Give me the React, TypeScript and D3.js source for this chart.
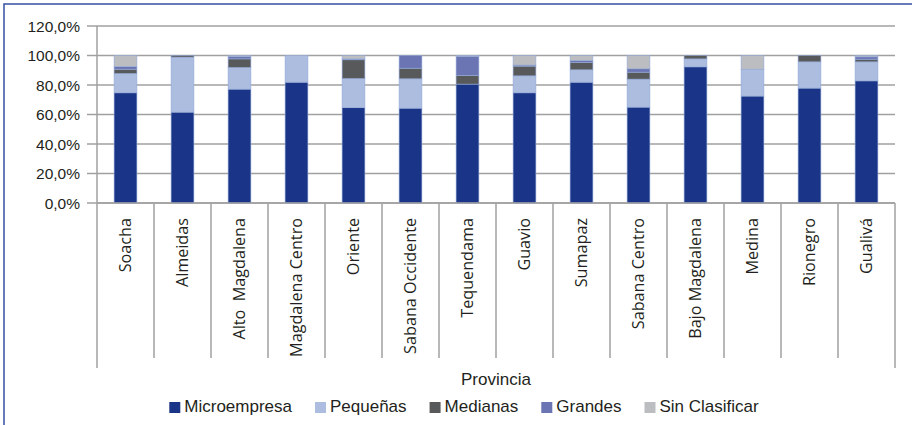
import React, { useEffect, useRef } from "react";
import * as d3 from "d3";

const categories = [
  "Soacha", "Almeidas", "Alto  Magdalena", "Magdalena Centro", "Oriente",
  "Sabana Occidente", "Tequendama", "Guavio", "Sumapaz", "Sabana Centro",
  "Bajo Magdalena", "Medina", "Rionegro", "Gualivá",
];
const microempresa = [74.7, 61.6, 77.2, 81.9, 64.6, 64.3, 80.6, 74.7, 81.9, 65.0, 92.3, 72.5, 77.9, 82.8];
const pequenas = [13.1, 37.3, 14.7, 18.1, 19.8, 19.9, 0, 11.5, 8.4, 19.0, 5.4, 18.2, 17.8, 12.9];
const medianas = [2.9, 1.1, 5.8, 0, 12.7, 7.2, 5.9, 6.6, 5.0, 4.7, 2.3, 0, 4.3, 1.8];
const grandes = [1.8, 0, 1.6, 0, 0.6, 8.6, 13.0, 0.7, 1.3, 2.3, 0, 0, 0, 1.6];
const sinClasificar = [7.5, 0, 0.7, 0, 2.3, 0, 0.5, 6.5, 3.4, 9.0, 0, 9.3, 0, 0.9];
const seriesNames = ["Microempresa", "Pequeñas", "Medianas", "Grandes", "Sin Clasificar"];
const seriesColors = ["#1a3587", "#adbde0", "#58595b", "#6b75b4", "#bcbdc0"];
const yTicks = [0, 20, 40, 60, 80, 100, 120];
const axisTitle = "Provincia";

export default function App() {
  const ref = useRef<SVGSVGElement>(null);

  useEffect(() => {
    const svg = d3.select(ref.current);
    svg.selectAll("*").remove();

    const W = 912, H = 425;
    const left = 97, right = 895, top = 26, bottom = 203;

    const seriesVals = [microempresa, pequenas, medianas, grandes, sinClasificar];
    const rows = categories.map((c, i) => {
      const r: any = { cat: c };
      seriesNames.forEach((s, j) => (r[s] = seriesVals[j][i]));
      return r;
    });

    const x = d3.scaleBand<string>().domain(categories).range([left, right]).paddingInner(0.6).paddingOuter(0.3);
    const y = d3.scaleLinear().domain([0, 120]).range([bottom, top]);
    const step = x.step();

    // frame
    svg.append("rect").attr("x", 4).attr("y", 4).attr("width", 940).attr("height", 460)
      .attr("fill", "white").attr("stroke", "#3452a4").attr("stroke-width", 1.5);

    // gridlines
    svg.append("g").selectAll("line").data(yTicks).join("line")
      .attr("x1", left).attr("x2", right)
      .attr("y1", (d) => y(d)).attr("y2", (d) => y(d))
      .attr("stroke", "#a0a0a2").attr("stroke-width", 1.5);

    // y tick marks
    svg.append("g").selectAll("line").data(yTicks).join("line")
      .attr("x1", left - 10).attr("x2", left)
      .attr("y1", (d) => y(d)).attr("y2", (d) => y(d))
      .attr("stroke", "#a0a0a2").attr("stroke-width", 1.5);

    // y axis line
    svg.append("line").attr("x1", left).attr("x2", left).attr("y1", top).attr("y2", bottom)
      .attr("stroke", "#a0a0a2").attr("stroke-width", 1.5);

    // y labels
    const fmt = (v: number) => v.toFixed(1).replace(".", ",") + "%";
    svg.append("g").selectAll("text").data(yTicks).join("text")
      .attr("x", 80).attr("y", (d) => y(d)).attr("dy", "0.36em")
      .attr("text-anchor", "end")
      .attr("font-family", "'Liberation Sans', Arial, sans-serif")
      .attr("font-size", 15.5).attr("fill", "#231f20")
      .text((d) => fmt(d));

    // bars
    const stack = d3.stack<any>().keys(seriesNames);
    const stacked = stack(rows);
    svg.append("g").selectAll("g").data(stacked).join("g")
      .attr("fill", (_d, i) => seriesColors[i])
      .selectAll("rect").data((d) => d).join("rect")
      .attr("x", (d: any) => x(d.data.cat)!)
      .attr("width", x.bandwidth())
      .attr("y", (d: any) => y(d[1]))
      .attr("height", (d: any) => Math.max(0, y(d[0]) - y(d[1])))
      .attr("stroke", (d: any) => (d[1] - d[0] > 0 ? "#93a9d6" : "none"))
      .attr("stroke-width", 0.6);

    // category separators
    const bounds = d3.range(categories.length + 1).map((i) => left + i * step);
    svg.append("g").selectAll("line").data(bounds).join("line")
      .attr("x1", (d) => d).attr("x2", (d) => d)
      .attr("y1", bottom)
      .attr("y2", (_d, i) => (i === 0 || i === categories.length ? 368 : 358))
      .attr("stroke", "#a0a0a2").attr("stroke-width", 1.5);

    // x axis line
    svg.append("line").attr("x1", left).attr("x2", right).attr("y1", bottom).attr("y2", bottom)
      .attr("stroke", "#a0a0a2").attr("stroke-width", 1.5);

    // category labels
    svg.append("g").selectAll("text").data(categories).join("text")
      .attr("transform", (d) => `translate(${x(d)! + x.bandwidth() / 2},218) rotate(-90)`)
      .attr("dy", "0.36em")
      .attr("text-anchor", "end")
      .attr("font-family", "'Open Sans', sans-serif")
      .attr("font-size", 16.2).attr("fill", "#231f20")
      .style("white-space", "pre")
      .text((d) => d);

    // axis title
    svg.append("text").attr("x", (left + right) / 2).attr("y", 385)
      .attr("text-anchor", "middle")
      .attr("font-family", "'Liberation Sans', Arial, sans-serif")
      .attr("font-size", 17).attr("fill", "#231f20")
      .text(axisTitle);

    // legend
    const lg = svg.append("g");
    const items = lg.selectAll("g").data(seriesNames).join("g");
    items.append("rect").attr("width", 11).attr("height", 11).attr("y", 402)
      .attr("fill", (_d, i) => seriesColors[i]);
    const texts = items.append("text").attr("x", 15).attr("y", 412)
      .attr("font-family", "'Liberation Sans', Arial, sans-serif")
      .attr("font-size", 17).attr("fill", "#231f20")
      .text((d) => d);
    const widths: number[] = [];
    texts.each(function () { widths.push((this as SVGTextElement).getComputedTextLength()); });
    const gap = 23;
    const total = d3.sum(widths) + widths.length * 15 + (widths.length - 1) * gap;
    let cx = 464 - total / 2;
    items.attr("transform", (_d, i) => {
      const t = `translate(${cx},0)`;
      cx += 15 + widths[i] + gap;
      return t;
    });
    void W; void H;
  }, []);

  return (
    <>
      <style>{"body{margin:0}"}</style>
      <svg ref={ref} width={912} height={425} style={{ display: "block" }} />
    </>
  );
}
